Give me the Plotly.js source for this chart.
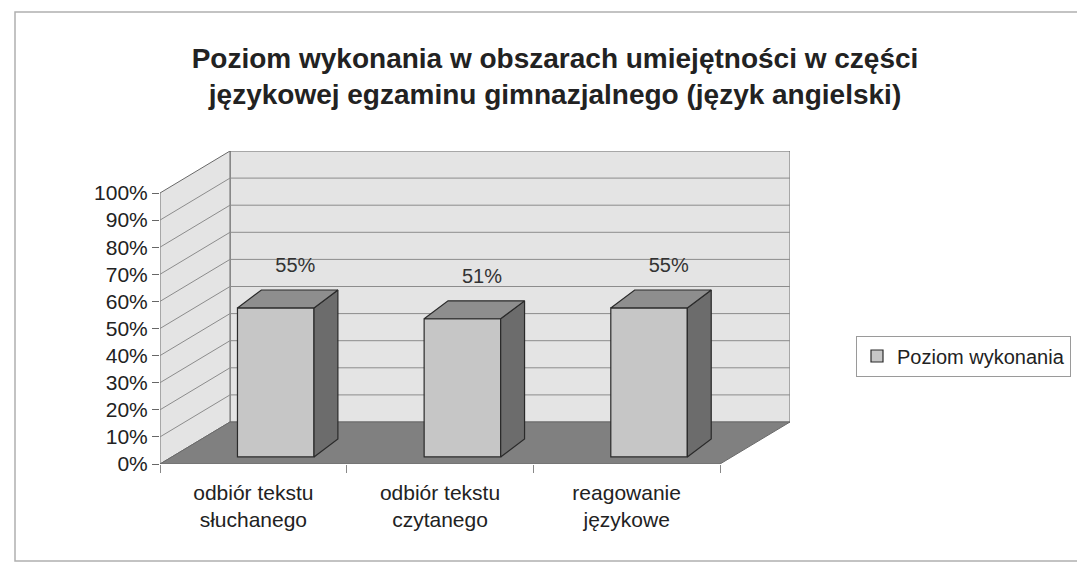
<!DOCTYPE html>
<html>
<head>
<meta charset="utf-8">
<script src="https://cdn.plot.ly/plotly-3.0.1.min.js"></script>
<style>html,body{margin:0;padding:0;background:#fff;}#chart{width:1077px;height:565px;}</style>
</head>
<body>
<div id="chart"></div>
<script>
// ---- data ----
const categories = ['odbiór tekstu<br>słuchanego', 'odbiór tekstu<br>czytanego', 'reagowanie<br>językowe'];
const values = [0.55, 0.51, 0.55];
const seriesName = 'Poziom wykonania';
const yTickVals = [0, 0.1, 0.2, 0.3, 0.4, 0.5, 0.6, 0.7, 0.8, 0.9, 1];
const yTickText = ['0%', '10%', '20%', '30%', '40%', '50%', '60%', '70%', '80%', '90%', '100%'];
const titleLine1 = 'Poziom wykonania w obszarach umiejętności w części';
const titleLine2 = 'językowej egzaminu gimnazjalnego (język angielski)';

// ---- pseudo-3D geometry (data units) ----
const DX = 0.375, DY = 0.155;          // wall depth
const BAR_W = 0.41, BAR_OFF = -0.085;  // front face width / offset from category
const BAR_BASE = 0.026;                // bars stand slightly inside the floor
const BDX = 0.128, BDY = 0.066;        // bar depth
const LABEL_DX = 0.225, LABEL_DY = 0.15;

const FONT = '"Liberation Sans", Arial, sans-serif';
const xs = categories.map((_, i) => i);
const xMin = -0.5, xMax = categories.length - 0.5;

// bar side and top faces, computed from the values
const sideX = [], sideY = [], topX = [], topY = [];
values.forEach((v, i) => {
  const xl = i + BAR_OFF, xr = xl + BAR_W, b = BAR_BASE, t = BAR_BASE + v;
  sideX.push(xr, xr + BDX, xr + BDX, xr, xr, null);
  sideY.push(b, b + BDY, t + BDY, t, b, null);
  topX.push(xl, xr, xr + BDX, xl + BDX, xl, null);
  topY.push(t, t, t + BDY, t + BDY, t, null);
});

const traces = [
  {
    type: 'bar', name: seriesName, x: xs, y: values, base: BAR_BASE,
    width: BAR_W, offset: BAR_OFF,
    marker: {color: '#c6c6c6', line: {color: '#2a2a2a', width: 1.2}},
    hovertemplate: '%{y:.0%}<extra></extra>'
  },
  {
    type: 'scatter', mode: 'lines', x: sideX, y: sideY, fill: 'toself',
    fillcolor: '#6c6c6c', line: {color: '#2a2a2a', width: 1.2},
    showlegend: false, hoverinfo: 'skip'
  },
  {
    type: 'scatter', mode: 'lines', x: topX, y: topY, fill: 'toself',
    fillcolor: '#8e8e8e', line: {color: '#2a2a2a', width: 1.2},
    showlegend: false, hoverinfo: 'skip'
  },
  {
    type: 'scatter', mode: 'text',
    x: xs.map(i => i + LABEL_DX),
    y: values.map(v => v + BAR_BASE + LABEL_DY),
    text: values.map(v => Math.round(v * 100) + '%'),
    textfont: {family: FONT, size: 20, color: '#333'},
    showlegend: false, hoverinfo: 'skip'
  }
];

// walls, floor and wall gridlines
const shapes = [];
const wallLine = {color: '#6a6a6a', width: 1};
shapes.push({type: 'rect', layer: 'below', xref: 'x', yref: 'y',
  x0: xMin + DX, x1: xMax + DX, y0: DY, y1: 1 + DY, fillcolor: '#e4e4e4', line: wallLine});
shapes.push({type: 'path', layer: 'below', xref: 'x', yref: 'y',
  path: `M ${xMin} 0 L ${xMin + DX} ${DY} L ${xMin + DX} ${1 + DY} L ${xMin} 1 Z`,
  fillcolor: '#e4e4e4', line: wallLine});
yTickVals.filter(t => t > 0 && t < 1).forEach(t => {
  shapes.push({type: 'path', layer: 'below', xref: 'x', yref: 'y',
    path: `M ${xMin} ${t} L ${xMin + DX} ${t + DY} L ${xMax + DX} ${t + DY}`,
    line: {color: '#8c8c8c', width: 1}});
});
shapes.push({type: 'path', layer: 'below', xref: 'x', yref: 'y',
  path: `M ${xMin} 0 L ${xMax} 0 L ${xMax + DX} ${DY} L ${xMin + DX} ${DY} Z`,
  fillcolor: '#808080', line: wallLine});

// outer chart frame (paper coords from pixels)
const M = {l: 160, r: 287, t: 151, b: 101, autoexpand: false};
const PW = 1077 - M.l - M.r, PH = 565 - M.t - M.b;
const px = p => (p - M.l) / PW, py = p => (565 - M.b - p) / PH;
shapes.push({type: 'rect', xref: 'paper', yref: 'paper', layer: 'below',
  x0: px(15), x1: px(1090), y0: py(561), y1: py(12), line: {color: '#b0b0b0', width: 1.5}});

const layout = {
  width: 1077, height: 565,
  margin: M,
  paper_bgcolor: '#ffffff', plot_bgcolor: 'rgba(0,0,0,0)',
  font: {family: FONT, color: '#222', size: 20},
  title: {
    text: '<b>' + titleLine1 + '<br>' + titleLine2 + '</b>',
    font: {family: FONT, size: 28, color: '#222'},
    x: 555 / 1077, xref: 'container', xanchor: 'center',
    y: 1 - 68 / 565, yref: 'container', yanchor: 'middle'
  },
  xaxis: {
    range: [xMin, xMax + DX], tickvals: xs, ticktext: categories,
    showgrid: false, zeroline: false, showline: false, ticks: '',
    ticklabelstandoff: 14,
    tickfont: {family: FONT, size: 21, color: '#222'},
    minor: {ticks: 'outside', tick0: xMin, dtick: 1, ticklen: 8, tickcolor: '#888', showgrid: false},
    fixedrange: true
  },
  yaxis: {
    range: [0, 1 + DY], tickvals: yTickVals, ticktext: yTickText,
    showgrid: false, zeroline: false, showline: false,
    ticks: 'outside', ticklen: 7, tickcolor: '#666',
    tickfont: {family: FONT, size: 21, color: '#222'},
    fixedrange: true
  },
  showlegend: true,
  legend: {
    x: px(856), y: py(356), xanchor: 'left', yanchor: 'middle',
    bordercolor: '#9a9a9a', borderwidth: 1, bgcolor: '#fff',
    font: {family: FONT, size: 20, color: '#222'}
  },
  shapes: shapes
};

Plotly.newPlot('chart', traces, layout, {displayModeBar: false, staticPlot: true});
</script>
</body>
</html>
